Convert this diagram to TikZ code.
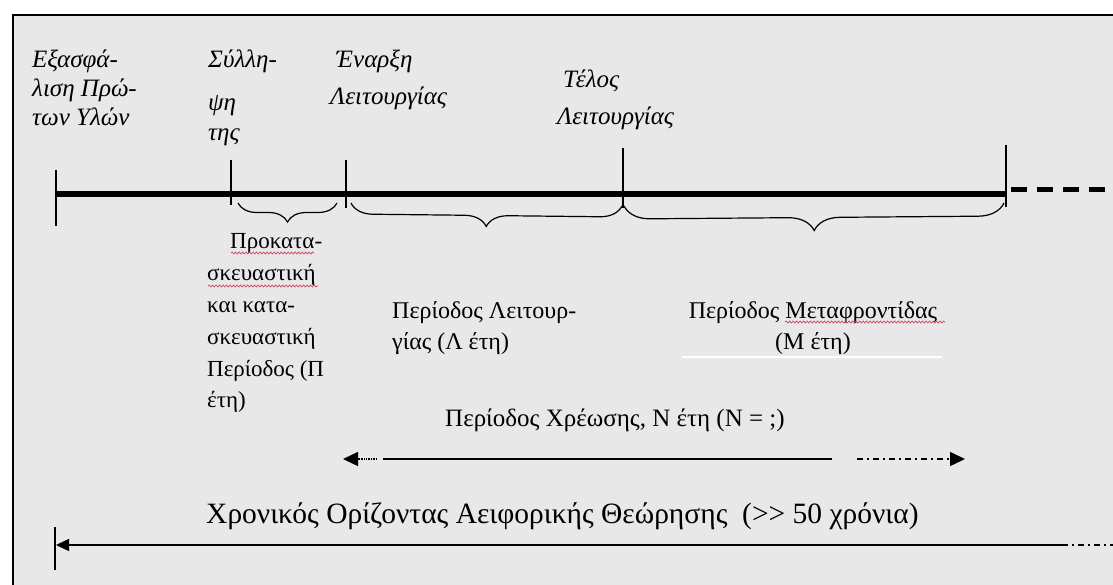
\documentclass[tikz,border=0pt]{standalone}
\usepackage{fontspec}
\setmainfont{Liberation Serif}
\usetikzlibrary{arrows.meta,decorations.pathreplacing,decorations.pathmorphing}
\definecolor{bg}{RGB}{232,232,232}
\definecolor{squig}{RGB}{205,70,95}
\begin{document}
\begin{tikzpicture}[x=1pt,y=-1pt,
  toplbl/.style={anchor=base west,inner sep=0pt,font=\fontsize{25}{29}\selectfont\itshape},
  lowlbl/.style={anchor=base west,inner sep=0pt,font=\fontsize{24}{31}\selectfont},
  leftlbl/.style={anchor=base west,inner sep=0pt,font=\fontsize{23}{31.8}\selectfont},
  tick/.style={line width=1.3pt},
  timeline/.style={line width=6pt},
  bracestyle/.style={line width=1.2pt,decorate,decoration={brace,mirror,amplitude=#1}},
  thinarrow/.style={line width=1.4pt},
  spell/.style={squig,line width=0.7pt,decorate,decoration={snake,segment length=3.5pt,amplitude=1pt}},
  tipL/.style={-{Triangle[length=15pt,width=14pt]}},
  dashdot/.style={dash pattern=on 6pt off 4pt on 2pt off 4pt}
]
\useasboundingbox (0,0) rectangle (1113,585);
% frame
\fill[bg] (13,15) rectangle (1113,585);
\draw[line width=2pt] (13,585) -- (13,15) -- (1113,15);

% timeline
\coordinate (t0) at (56,194);
\coordinate (t1) at (231,194);
\coordinate (t2) at (346,194);
\coordinate (t3) at (623,194);
\coordinate (t4) at (1006,194);
\coordinate (tend) at (1113,190);
\draw[timeline] (t0) -- (t4);
\draw[line width=5pt,dash pattern=on 16pt off 10pt] (1011,190) -- (tend);

% ticks
\draw[tick] (56,170) -- (56,226);
\draw[tick] (231,160) -- (231,205);
\draw[tick] (346,160) -- (346,208);
\draw[tick] (623,148) -- (623,208);
\draw[tick] (1006,145) -- (1006,207);

% braces
\draw[bracestyle=19pt] (238,203) -- (337,203);
\draw[bracestyle=22pt] (351,203) -- (622,206);
\draw[bracestyle=26pt] (624,206) -- (1004,203);

% top labels
\node[toplbl] (lA) at (32,68) {\vtop{\hbox{Εξασφά-}\hbox{λιση Πρώ-}\hbox{των Υλών}}};
\node[toplbl] (lB) at (208,68) {\vtop{\hbox{Σύλλη-}\vskip14pt\hbox{ψη}\vskip1pt\hbox{της}}};
\node[toplbl] (lC) at (330,68) {\vtop{\hbox{\kern6pt Έναρξη}\vskip8pt\hbox{Λειτουργίας}}};
\node[toplbl] (lD) at (557,88) {\vtop{\hbox{\kern6pt Τέλος}\vskip8pt\hbox{Λειτουργίας}}};

% lower labels
\node[leftlbl] (lE) at (207,249) {\vtop{\hbox{\kern23pt Προκατα-}\hbox{σκευαστική}\hbox{και κατα-}\hbox{σκευαστική}\hbox{Περίοδος (Π}\hbox{έτη)}}};
\node[lowlbl] (lF) at (392,318) {\vtop{\hbox{Περίοδος Λειτουρ-}\hbox{γίας (Λ έτη)}}};
\node[lowlbl,anchor=base] (lG) at (813,318) {\vtop{\halign{\hfil#\hfil\cr Περίοδος Μεταφροντίδας\cr (Μ έτη)\cr}}};
\draw[white,line width=2pt] (682,357) -- (942,357);

% spell-check marks
\draw[spell] (231,253) -- (314,253);
\draw[spell] (208,286) -- (318,286);
\draw[spell] (785,322) -- (945,322);

% charge period
\node[lowlbl,font=\fontsize{25}{30}\selectfont] (lH) at (445,426) {Περίοδος Χρέωσης, Ν έτη (Ν = ;)};
\coordinate (hL0) at (343,459);
\coordinate (hL1) at (377,459);
\coordinate (hM0) at (383,459);
\coordinate (hM1) at (832,459);
\coordinate (hR0) at (857,459);
\coordinate (hR1) at (965,459);
\draw[thinarrow,densely dotted,tipL] (hL1) -- (hL0);
\draw[thinarrow] (hM0) -- (hM1);
\draw[thinarrow,dashdot,tipL] (hR0) -- (hR1);

% horizon
\node[lowlbl,font=\fontsize{29.5}{34}\selectfont] (lI) at (206,523) {Χρονικός Ορίζοντας Αειφορικής Θεώρησης\ \ (>{}> 50 χρόνια)};
\draw[tick] (55,527) -- (55,570);
\coordinate (bL) at (56,545);
\coordinate (bM) at (1062,545);
\coordinate (bR) at (1113,545);
\draw[thinarrow,-{Triangle[length=13pt,width=12pt]}] (bM) -- (bL);
\draw[thinarrow,dashdot] (bM) -- (bR);
\end{tikzpicture}
\end{document}
